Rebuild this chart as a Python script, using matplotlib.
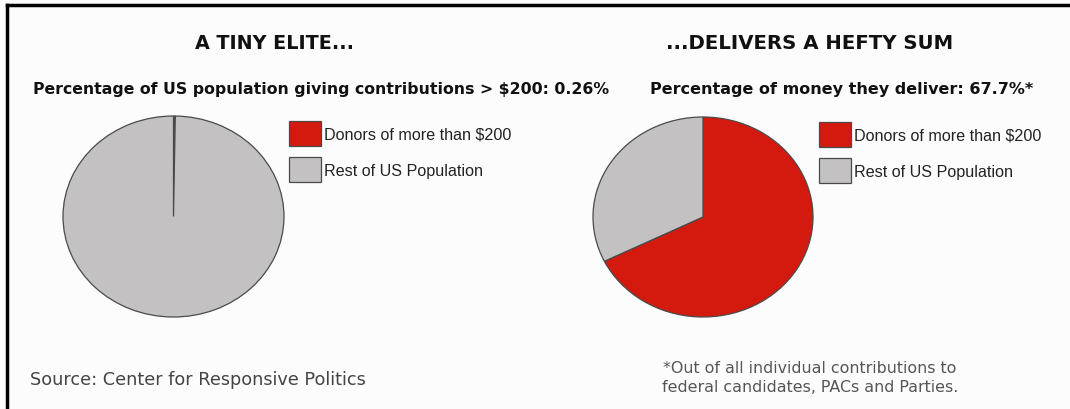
import matplotlib
matplotlib.use('Agg')
import matplotlib.pyplot as plt
from matplotlib.lines import Line2D

# data
labels = ['Donors of more than $200', 'Rest of US Population']
pop_share = [0.26, 99.74]
money_share = [67.7, 32.3]
colors = ['#d41a0f', '#c3c1c2']
titles = ['A TINY ELITE...', '...DELIVERS A HEFTY SUM']
subtitles = ['Percentage of US population giving contributions > $200: 0.26%',
             'Percentage of money they deliver: 67.7%*']
source = 'Source: Center for Responsive Politics'
footnote = '*Out of all individual contributions to\nfederal candidates, PACs and Parties.'

plt.rcParams['font.family'] = ['DejaVu Sans']

W, H = 1070, 410
fig = plt.figure(figsize=(W / 100, H / 100), dpi=100)
fig.patch.set_facecolor('#fcfcfc')


def px_axes(cx, cy, rx, ry, pad=1.1):
    """axes whose [-pad, pad] box maps to an ellipse centred at (cx, cy) px"""
    w = 2 * pad * rx
    h = 2 * pad * ry
    return fig.add_axes([(cx - w / 2) / W, (H - cy - h / 2) / H, w / W, h / H])


def draw_pie(ax, values, legend_xy):
    wedges, _ = ax.pie(values, colors=colors, startangle=90, counterclock=False,
                       wedgeprops=dict(edgecolor='#4a4a4a', linewidth=0.9))
    ax.set_aspect('auto')
    ax.set_xlim(-1.1, 1.1)
    ax.set_ylim(-1.1, 1.1)
    fig.legend(wedges, labels, loc='upper left',
               bbox_to_anchor=(legend_xy[0] / W, 1 - legend_xy[1] / H),
               frameon=False, handlelength=2.0, handleheight=2.0,
               handletextpad=0.2, labelspacing=0.7, borderpad=0,
               borderaxespad=0, labelcolor='#222222',
               prop=dict(family='Liberation Sans', size=11.6))


ax1 = px_axes(173.5, 217.5, 110.5, 100.5)
draw_pie(ax1, pop_share, (289, 122))
ax2 = px_axes(703, 218, 110, 100)
draw_pie(ax2, money_share, (819, 123))

# titles
fig.text(275 / W, 1 - 49 / H, titles[0], ha='center', va='baseline',
         fontsize=13.8, fontweight='bold', color='#111111')
fig.text(810 / W, 1 - 49 / H, titles[1], ha='center', va='baseline',
         fontsize=14.2, fontweight='bold', color='#111111')
fig.text(33 / W, 1 - 94 / H, subtitles[0], ha='left', va='baseline',
         fontsize=11.3, fontweight='bold', color='#111111')
fig.text(650 / W, 1 - 94 / H, subtitles[1], ha='left', va='baseline',
         fontsize=11.5, fontweight='bold', color='#111111')

fig.text(30 / W, 1 - 385 / H, source, ha='left', va='baseline',
         fontsize=12.7, color='#444444')
fig.text(810 / W, 1 - 392 / H, footnote, ha='center', va='baseline',
         fontsize=11.4, color='#555555', linespacing=1.35, multialignment='center')

# frame lines top and left
fig.add_artist(Line2D([7 / W, 1], [1 - 6 / H, 1 - 6 / H], color='black', lw=2.5))
fig.add_artist(Line2D([7 / W, 7 / W], [0, 1 - 6 / H], color='black', lw=2.5))

fig.savefig('out.png', dpi=100, facecolor=fig.get_facecolor())
